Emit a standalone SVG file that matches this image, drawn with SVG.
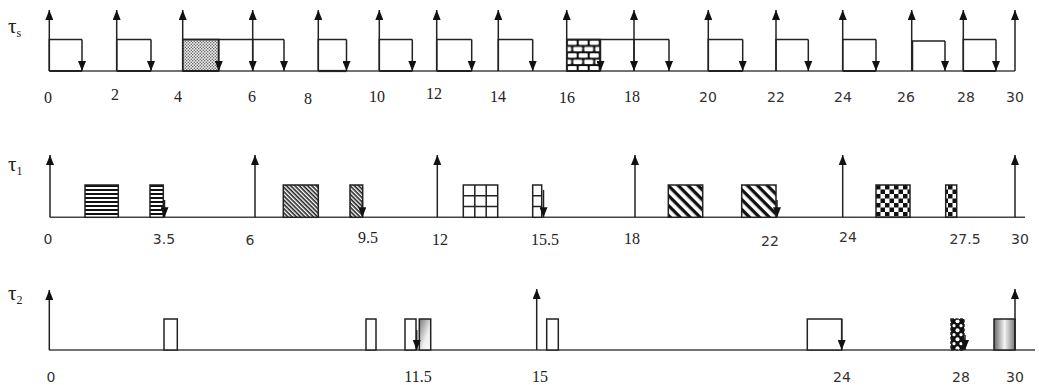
<svg xmlns="http://www.w3.org/2000/svg" width="1039" height="385" viewBox="0 0 1039 385">
<style>
.base{stroke:#444;stroke-width:1.5;fill:none}
.up{stroke:#222;stroke-width:1.5;fill:none;marker-end:url(#ah)}
.dn{stroke:#222;stroke-width:1.5;fill:none;marker-end:url(#ah)}
.box{stroke:#222;stroke-width:1.5}
.tl{stroke:#222;stroke-width:1.5;fill:none}
.sb{stroke:#222;stroke-width:2.2;fill:none}
.num{font-family:"Liberation Serif",serif;font-size:16px;fill:#222;text-anchor:middle}
.nums{font-family:"DejaVu Sans","Liberation Sans",sans-serif;font-size:14px;fill:#333;text-anchor:middle}
.tau{font-family:"Liberation Serif",serif;font-size:21px;fill:#222}
.sub{font-size:12px}
</style>
<defs>
<marker id="ah" viewBox="0 0 10 8" refX="10" refY="4" markerWidth="10" markerHeight="8" markerUnits="userSpaceOnUse" orient="auto"><path d="M0,0 L10,4 L0,8 z" fill="#111"/></marker>
<pattern id="pDots" width="3" height="3" patternUnits="userSpaceOnUse"><rect width="3" height="3" fill="#eee"/><circle cx="0.75" cy="0.75" r="0.75" fill="#555"/><circle cx="2.25" cy="2.25" r="0.75" fill="#555"/></pattern>
<pattern id="pBrick" x="566.7" y="39.5" width="11" height="12.8" patternUnits="userSpaceOnUse"><rect width="11" height="12.8" fill="#111"/><rect x="1" y="1" width="9" height="4.4" rx="1" fill="#fff"/><rect x="-4.5" y="7.4" width="9" height="4.4" rx="1" fill="#fff"/><rect x="6.5" y="7.4" width="9" height="4.4" rx="1" fill="#fff"/></pattern>
<pattern id="pH" x="0" y="185" width="4" height="4" patternUnits="userSpaceOnUse"><rect width="4" height="4" fill="#fff"/><rect width="4" height="2" fill="#111"/></pattern>
<pattern id="pDD" width="3" height="3" patternUnits="userSpaceOnUse" patternTransform="rotate(45)"><rect width="3" height="3" fill="#fff"/><rect width="3" height="1.6" fill="#222"/></pattern>
<pattern id="pDW" width="7" height="7" patternUnits="userSpaceOnUse" patternTransform="rotate(45)"><rect width="7" height="7" fill="#fff"/><rect width="7" height="3.3" fill="#111"/></pattern>
<pattern id="pChk" x="876" y="185" width="9" height="9" patternUnits="userSpaceOnUse"><rect width="9" height="9" fill="#fff"/><rect width="4.5" height="4.5" fill="#111"/><rect x="4.5" y="4.5" width="4.5" height="4.5" fill="#111"/></pattern>
<pattern id="pChk2" x="951" y="319" width="13" height="9" patternUnits="userSpaceOnUse"><rect width="13" height="9" fill="#111"/><circle cx="6.5" cy="2.2" r="2" fill="#fff"/><circle cx="3" cy="6.7" r="1.6" fill="#fff"/><circle cx="10" cy="6.7" r="1.6" fill="#fff"/></pattern>
<linearGradient id="g1" x1="0" y1="0" x2="1" y2="1"><stop offset="0" stop-color="#777"/><stop offset="0.6" stop-color="#eee"/><stop offset="1" stop-color="#fff"/></linearGradient>
<linearGradient id="g2" x1="0" y1="0" x2="1" y2="0"><stop offset="0" stop-color="#666"/><stop offset="0.5" stop-color="#f4f4f4"/><stop offset="1" stop-color="#777"/></linearGradient>
</defs>

<g id="labels">
<text class="tau" x="8" y="33">τ<tspan class="sub" dy="4">s</tspan></text>
<text class="tau" x="8" y="171">τ<tspan class="sub" dy="4">1</tspan></text>
<text class="tau" x="8" y="300">τ<tspan class="sub" dy="4">2</tspan></text>
</g>

<g id="axis-s">
<line class="base" x1="49" y1="71" x2="1015" y2="71"/>
<text class="num" x="48" y="103">0</text>
<text class="num" x="115" y="100">2</text>
<text class="num" x="178" y="102">4</text>
<text class="num" x="252" y="102">6</text>
<text class="num" x="308" y="104">8</text>
<text class="num" x="377" y="102">10</text>
<text class="num" x="434" y="99">12</text>
<text class="num" x="498" y="102">14</text>
<text class="num" x="567" y="103">16</text>
<text class="num" x="632" y="102">18</text>
<text class="nums" x="708" y="102">20</text>
<text class="nums" x="776" y="102">22</text>
<text class="nums" x="843" y="102">24</text>
<text class="nums" x="906" y="102">26</text>
<text class="nums" x="966" y="102">28</text>
<text class="nums" x="1015" y="102">30</text>
</g>

<g id="axis-1">
<line class="base" x1="50" y1="217.3" x2="1025" y2="217.3"/>
<text class="nums" x="48" y="244">0</text>
<text class="nums" x="164" y="244">3.5</text>
<text class="nums" x="250" y="245">6</text>
<text class="num" x="368" y="243">9.5</text>
<text class="num" x="440" y="245">12</text>
<text class="num" x="545" y="245">15.5</text>
<text class="num" x="632" y="244">18</text>
<text class="nums" x="770" y="246">22</text>
<text class="nums" x="848" y="242">24</text>
<text class="nums" x="965" y="244">27.5</text>
<text class="nums" x="1020" y="244">30</text>
</g>

<g id="axis-2">
<line class="base" x1="49" y1="350" x2="1035" y2="350"/>
<text class="nums" x="51" y="382">0</text>
<text class="num" x="418" y="382">11.5</text>
<text class="num" x="540" y="382">15</text>
<text class="nums" x="842" y="382">24</text>
<text class="nums" x="961" y="382">28</text>
<text class="nums" x="1015" y="382">30</text>
</g>

<g id="s-jobs">
<g id="s1"><polyline class="tl" points="49.3,71 49.3,39.5 82,39.5"/><line class="sb" x1="49.3" y1="71" x2="82" y2="71"/></g>
<g id="s2"><polyline class="tl" points="116.7,71 116.7,39.5 151,39.5"/><line class="sb" x1="116.7" y1="71" x2="151" y2="71"/></g>
<g id="s3"><rect x="182.7" y="39.5" width="35.8" height="31.5" fill="url(#pDots)" class="box"/><line class="tl" x1="182.7" y1="39.5" x2="284" y2="39.5"/><line class="sb" x1="182.7" y1="71" x2="218.5" y2="71"/></g>
<g id="s4"><polyline class="tl" points="318.3,71 318.3,39.5 346.5,39.5"/><line class="sb" x1="318.3" y1="71" x2="346.5" y2="71"/></g>
<g id="s5"><polyline class="tl" points="379.3,71 379.3,39.5 412.3,39.5"/><line class="sb" x1="379.3" y1="71" x2="412.3" y2="71"/></g>
<g id="s6"><polyline class="tl" points="436.7,71 436.7,39.5 471.7,39.5"/><line class="sb" x1="436.7" y1="71" x2="471.7" y2="71"/></g>
<g id="s7"><polyline class="tl" points="498.3,71 498.3,39.5 532.7,39.5"/></g>
<g id="s8"><rect x="566.7" y="39.5" width="33.3" height="31.5" fill="url(#pBrick)" class="box"/><line class="tl" x1="566.7" y1="39.5" x2="669" y2="39.5"/><line class="sb" x1="566.7" y1="71" x2="600" y2="71"/></g>
<g id="s9"><polyline class="tl" points="708.3,71 708.3,39.5 742.7,39.5"/><line class="sb" x1="708.3" y1="71" x2="742.7" y2="71"/></g>
<g id="s10"><polyline class="tl" points="776,71 776,39.5 808.3,39.5"/></g>
<g id="s11"><polyline class="tl" points="842.7,71 842.7,39.5 876,39.5"/><line class="sb" x1="842.7" y1="71" x2="876" y2="71"/></g>
<g id="s12"><polyline class="tl" points="912.5,71 912.5,41 945,41"/></g>
<g id="s13"><polyline class="tl" points="963.3,71 963.3,39.5 996,39.5"/><line class="sb" x1="963.3" y1="71" x2="996" y2="71"/></g>
</g>

<g id="t1-jobs">
<g id="j1a"><rect class="box" x="85" y="185" width="33.3" height="32.3" fill="url(#pH)"/></g>
<g id="j1b"><rect class="box" x="150" y="185" width="13.3" height="32.3" fill="url(#pH)"/></g>
<g id="j2a"><rect class="box" x="283.3" y="185" width="35" height="32.3" fill="url(#pDD)"/></g>
<g id="j2b"><rect class="box" x="350" y="185" width="12.7" height="32.3" fill="url(#pDD)"/></g>
<g id="j3a"><rect class="box" x="463.3" y="185" width="34.4" height="32.3" fill="#fff"/><path class="box" fill="none" d="M474.8,185V217.3M486.2,185V217.3M463.3,195.8H497.7M463.3,206.5H497.7"/></g>
<g id="j3b"><rect class="box" x="532.7" y="185" width="9" height="32.3" fill="#fff"/><path class="box" fill="none" d="M532.7,195.8H541.7M532.7,206.5H541.7"/></g>
<g id="j4a"><rect class="box" x="668.3" y="185" width="34.4" height="32.3" fill="url(#pDW)"/></g>
<g id="j4b"><rect class="box" x="741.7" y="185" width="34.3" height="32.3" fill="url(#pDW)"/></g>
<g id="j5a"><rect class="box" x="876" y="185" width="34" height="32.3" fill="url(#pChk)"/></g>
<g id="j5b"><rect class="box" x="945.7" y="185" width="11" height="32.3" fill="url(#pChk)"/></g>
</g>

<g id="t2-jobs">
<g id="k1"><rect class="box" x="164" y="319" width="13.3" height="31" fill="#fff"/></g>
<g id="k2"><rect class="box" x="366" y="319" width="10" height="31" fill="#fff"/></g>
<g id="k3"><rect class="box" x="405" y="319" width="11" height="31" fill="#fff"/></g>
<g id="k4"><rect class="box" x="419.3" y="319" width="11.4" height="31" fill="url(#g1)"/></g>
<g id="k5"><rect class="box" x="546.7" y="319" width="11.6" height="31" fill="#fff"/></g>
<g id="k6"><rect class="box" x="807.3" y="319" width="34.4" height="31" fill="#fff"/></g>
<g id="k7"><rect class="box" x="951" y="319" width="13" height="31" fill="url(#pChk2)" stroke-dasharray="3,1.5"/></g>
<g id="k8"><rect class="box" x="994" y="319" width="21" height="31" fill="url(#g2)"/></g>
</g>

<g id="connectors">
<line class="up" x1="49.3" y1="71" x2="49.3" y2="10"/>
<line class="up" x1="116.7" y1="71" x2="116.7" y2="10"/>
<line class="up" x1="182.7" y1="71" x2="182.7" y2="10"/>
<line class="up" x1="252.7" y1="71" x2="252.7" y2="10"/>
<line class="up" x1="318.3" y1="71" x2="318.3" y2="10"/>
<line class="up" x1="379.3" y1="71" x2="379.3" y2="10"/>
<line class="up" x1="436.7" y1="71" x2="436.7" y2="10"/>
<line class="up" x1="498.3" y1="71" x2="498.3" y2="10"/>
<line class="up" x1="566.7" y1="71" x2="566.7" y2="10"/>
<line class="up" x1="634" y1="71" x2="634" y2="10"/>
<line class="up" x1="708.3" y1="71" x2="708.3" y2="10"/>
<line class="up" x1="776" y1="71" x2="776" y2="10"/>
<line class="up" x1="842.7" y1="71" x2="842.7" y2="10"/>
<line class="up" x1="911.7" y1="71" x2="911.7" y2="10"/>
<line class="up" x1="963.3" y1="71" x2="963.3" y2="10"/>
<line class="up" x1="1015" y1="71" x2="1015" y2="10"/>

<line class="dn" x1="82" y1="39.5" x2="82" y2="71"/>
<line class="dn" x1="151" y1="39.5" x2="151" y2="71"/>
<line class="dn" x1="218.8" y1="39.5" x2="218.8" y2="71"/>
<line class="dn" x1="252.7" y1="39.5" x2="252.7" y2="71"/>
<line class="dn" x1="284" y1="39.5" x2="284" y2="71"/>
<line class="dn" x1="346.5" y1="39.5" x2="346.5" y2="71"/>
<line class="dn" x1="412.3" y1="39.5" x2="412.3" y2="71"/>
<line class="dn" x1="471.7" y1="39.5" x2="471.7" y2="71"/>
<line class="dn" x1="532.7" y1="39.5" x2="532.7" y2="71"/>
<line class="dn" x1="600.5" y1="39.5" x2="600.5" y2="71"/>
<line class="dn" x1="634" y1="39.5" x2="634" y2="71"/>
<line class="dn" x1="669" y1="39.5" x2="669" y2="71"/>
<line class="dn" x1="742.7" y1="39.5" x2="742.7" y2="71"/>
<line class="dn" x1="808.3" y1="39.5" x2="808.3" y2="71"/>
<line class="dn" x1="876" y1="39.5" x2="876" y2="71"/>
<line class="dn" x1="945" y1="41" x2="945" y2="71"/>
<line class="dn" x1="996" y1="39.5" x2="996" y2="71"/>

<line class="up" x1="50" y1="217.3" x2="50" y2="155"/>
<line class="up" x1="255" y1="217.3" x2="255" y2="155"/>
<line class="up" x1="437.3" y1="217.3" x2="437.3" y2="155"/>
<line class="up" x1="635" y1="217.3" x2="635" y2="155"/>
<line class="up" x1="842.7" y1="217.3" x2="842.7" y2="155"/>
<line class="up" x1="1015" y1="217.3" x2="1015" y2="155"/>
<line class="dn" x1="164.5" y1="200" x2="164.5" y2="217.3"/>
<line class="dn" x1="362.3" y1="200" x2="362.3" y2="217.3"/>
<line class="dn" x1="543.5" y1="190" x2="543.5" y2="217.3"/>
<line class="dn" x1="777" y1="200" x2="777" y2="217.3"/>

<line class="up" x1="49.3" y1="350" x2="49.3" y2="290"/>
<line class="up" x1="536.7" y1="350" x2="536.7" y2="289"/>
<line class="up" x1="1015" y1="350" x2="1015" y2="289"/>
<line class="dn" x1="416.7" y1="330" x2="416.7" y2="350"/>
<line class="dn" x1="841.7" y1="319" x2="841.7" y2="350"/>
<line class="dn" x1="965" y1="335" x2="965" y2="350"/>
</g>
</svg>
